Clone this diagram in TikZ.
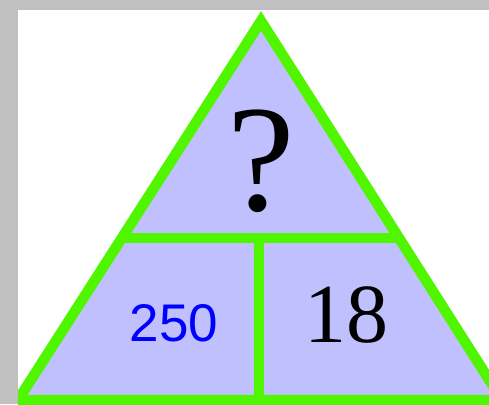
\documentclass[tikz,border=0pt]{standalone}
\usepackage{fontspec}
\setmainfont{Liberation Serif}
\newfontfamily\arialfont{Liberation Sans}
\definecolor{bggray}{RGB}{192,192,192}
\definecolor{lav}{RGB}{192,192,255}
\definecolor{lgreen}{RGB}{80,245,0}
\definecolor{numblue}{RGB}{0,0,255}
\tikzset{
  edge/.style={draw=lgreen, line width=10.5pt},
  bignum/.style={inner sep=0pt, anchor=center},
}
\begin{document}
\begin{tikzpicture}[x=1pt,y=-1pt]
\useasboundingbox (0,0) rectangle (489,404);
\fill[bggray] (0,0) rectangle (489,404);
\fill[white] (18,10) rectangle (489,404);
\coordinate (apex) at (261,21);
\coordinate (bl) at (18,400);
\coordinate (br) at (502,400);
\coordinate (ml) at (121,238);
\coordinate (mr) at (401,238);
\coordinate (mt) at (259,238);
\coordinate (mb) at (259,400);
\begin{scope}
\clip (18,10) rectangle (489,404);
\fill[lav] (apex) -- (bl) -- (br) -- cycle;
\draw[edge, line join=miter] (apex) -- (bl) -- (br) -- cycle;
\draw[edge] (ml) -- (mr);
\draw[edge] (mt) -- (mb);
\end{scope}
\node[bignum, font=\fontsize{152}{152}\selectfont] (q) at (261,161) {?};
\node[bignum, font=\arialfont\fontsize{53}{53}\selectfont, text=numblue] (a) at (174,323.5) {250};
\node[bignum, font=\fontsize{84}{84}\selectfont] (b) at (346,315) {18};
\end{tikzpicture}
\end{document}
